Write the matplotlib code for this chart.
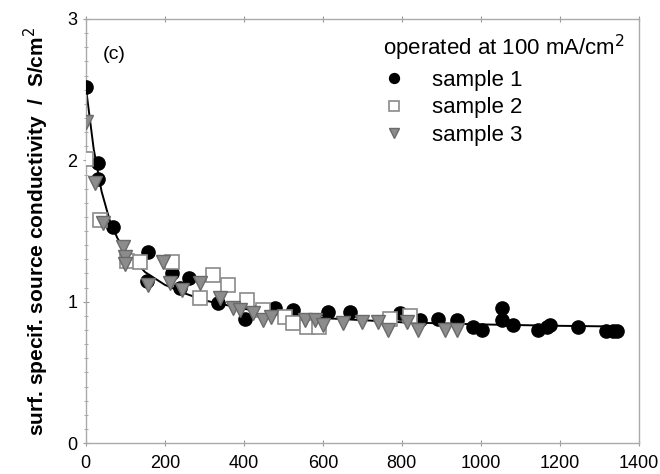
import matplotlib
matplotlib.use("Agg")
import matplotlib.pyplot as plt
from matplotlib.ticker import MultipleLocator

plt.rcParams['font.family'] = ['Liberation Sans', 'DejaVu Sans']

# sample 1 (filled circles)
s1_x = [0, 30, 30, 68, 157, 155, 217, 238, 260, 334, 403, 440, 478, 524, 612,
        668, 795, 846, 892, 939, 980, 1003, 1053, 1053, 1081, 1144, 1167, 1175,
        1245, 1318, 1335, 1344]
s1_y = [2.52, 1.98, 1.87, 1.53, 1.35, 1.15, 1.20, 1.10, 1.17, 0.99, 0.88, 0.94,
        0.955, 0.94, 0.93, 0.93, 0.92, 0.87, 0.88, 0.87, 0.82, 0.80, 0.955, 0.87,
        0.835, 0.80, 0.82, 0.835, 0.82, 0.79, 0.79, 0.79]

# sample 2 (open squares)
s2_x = [0, 35, 104, 137, 217, 322, 360, 289, 408, 448, 504, 524, 560, 590, 770, 820]
s2_y = [2.01, 1.58, 1.29, 1.28, 1.28, 1.19, 1.12, 1.03, 1.01, 0.94, 0.89, 0.85,
        0.82, 0.82, 0.88, 0.90]

# sample 3 (grey triangles)
s3_x = [0, 23, 43, 94, 99, 99, 157, 195, 213, 243, 289, 339, 372, 390, 423, 448,
        470, 554, 580, 600, 651, 699, 739, 765, 812, 841, 909, 939]
s3_y = [2.27, 1.84, 1.56, 1.39, 1.32, 1.27, 1.12, 1.28, 1.13, 1.08, 1.13, 1.03,
        0.955, 0.94, 0.92, 0.87, 0.89, 0.87, 0.87, 0.835, 0.85, 0.86, 0.86, 0.80,
        0.86, 0.80, 0.80, 0.80]

# fitted decay curve
fit_x = [0, 20, 40, 60, 80, 100, 150, 200, 250, 300, 400, 500, 600, 800, 1000, 1200, 1350]
fit_y = [2.52, 2.08, 1.78, 1.58, 1.45, 1.36, 1.21, 1.12, 1.06, 1.01, 0.95, 0.91,
         0.885, 0.855, 0.84, 0.83, 0.825]

fig = plt.figure(figsize=(6.6, 4.74), dpi=100)
ax = fig.add_axes([0.130, 0.065, 0.838, 0.895])

ax.plot(fit_x, fit_y, color='black', lw=1.4, zorder=2)
ax.plot(s1_x, s1_y, 'o', color='black', ms=9.5, zorder=3, label='sample 1')
ax.plot(s2_x, s2_y, 's', mfc='white', mec='#8a8a8a', mew=1.2, ms=10, zorder=3,
        label='sample 2')
ax.plot(s3_x, s3_y, 'v', mfc='#8c8c8c', mec='#6a6a6a', ms=10, zorder=4,
        label='sample 3')

ax.set_xlim(0, 1400)
ax.set_ylim(0, 3)
ax.xaxis.set_major_locator(MultipleLocator(200))
ax.yaxis.set_major_locator(MultipleLocator(1))
ax.yaxis.set_minor_locator(MultipleLocator(0.1))
ax.tick_params(which='both', direction='inout', color='#999999', labelsize=13,
               top=True, right=False)
ax.tick_params(which='major', length=5)
ax.tick_params(which='minor', length=3)
ax.tick_params(axis='x', pad=6)
for sp in ax.spines.values():
    sp.set_color('#aaaaaa')
    sp.set_linewidth(1.0)

ax.set_ylabel('surf. specif. source conductivity  /  S/cm$^2$', fontsize=15,
              fontweight='bold', labelpad=12)

ax.text(0.03, 0.905, '(c)', transform=ax.transAxes, fontsize=14)

leg = ax.legend(loc='upper left', bbox_to_anchor=(0.537, 0.967), frameon=False,
                title='operated at 100 mA/cm$^2$', title_fontsize=16, fontsize=16,
                alignment='left', handlelength=1.0, handletextpad=1.2,
                labelspacing=0.3, borderpad=0, borderaxespad=0, markerscale=0.75)

fig.savefig('out.png', dpi=100)
